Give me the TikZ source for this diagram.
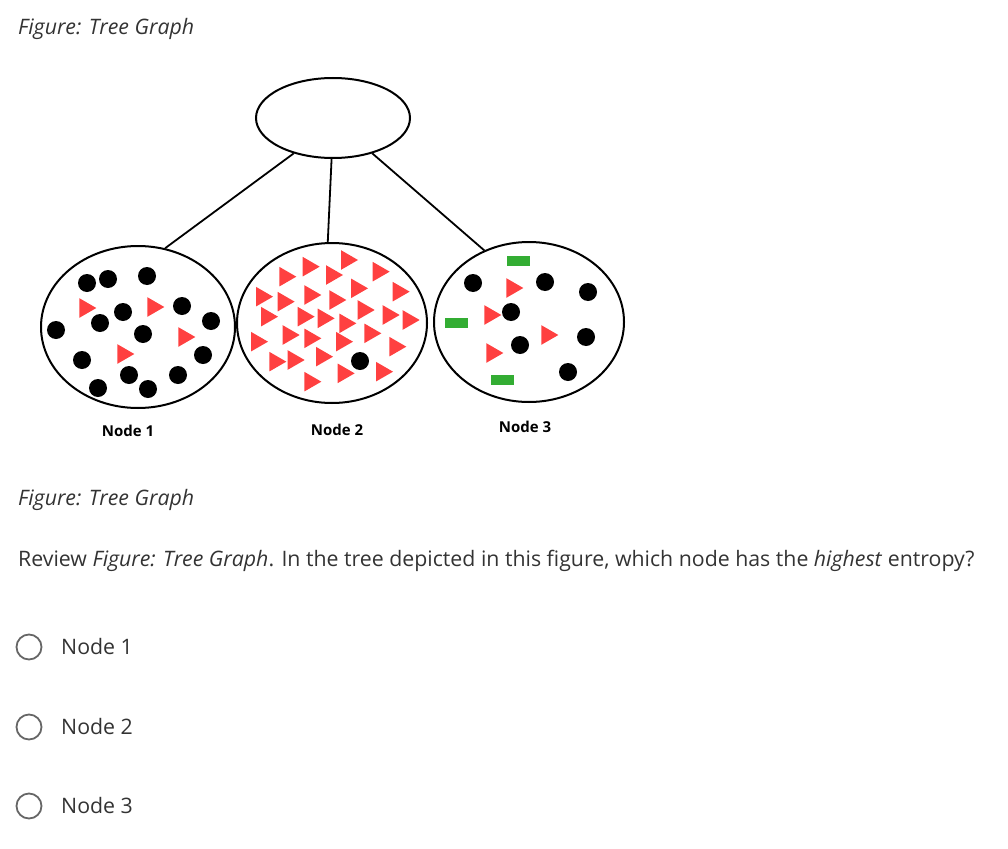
\documentclass[tikz,border=0pt]{standalone}
\usepackage{fontspec}
\setmainfont{Open Sans}
\usetikzlibrary{shapes.geometric}
\begin{document}
\begin{tikzpicture}[x=1pt,y=-1pt,
 dot/.style={circle,fill=black,inner sep=0pt,minimum size=18pt},
 tri/.style={isosceles triangle,fill=red!75!white,inner sep=0pt,minimum height=17pt,minimum width=19pt,isosceles triangle apex angle=60},
 grn/.style={fill=green!60!black!80,inner sep=0pt,minimum width=23pt,minimum height=10pt},
 ell/.style={ellipse,draw,line width=2pt,inner sep=0pt},
 lbl/.style={font=\fontsize{15}{17}\selectfont\bfseries},
 txt/.style={anchor=base west,inner sep=0pt,font=\fontsize{21.3}{25}\selectfont,text=black!80},
 radio/.style={circle,draw=black!60,line width=1.8pt,minimum size=25pt,inner sep=0pt},
 edge/.style={line width=1.8pt}]
\useasboundingbox (0,0) rectangle (1008,848);
\node[txt] (t1) at (18,35) {\itshape Figure: Tree Graph};
\node[ell,minimum width=154pt,minimum height=80pt] (root) at (333,118) {};
\node[ell,minimum width=194pt,minimum height=162pt] (n1) at (138,327) {};
\node[ell,minimum width=190pt,minimum height=160pt] (n2) at (332,323) {};
\node[ell,minimum width=190pt,minimum height=160pt] (n3) at (529,322) {};
\draw[edge] (root.222) -- (n1.71);
\draw[edge] (root.268) -- (n2.93);
\draw[edge] (root.318) -- (n3.122);
% node 1
\foreach \x/\y [count=\i] in {87/283,108/279,147/276,123/312,100/323,182/306,211/321,56/330,143/334,82/360,203/355,129/375,178/375,98/388,148/389}
  \node[dot] (a\i) at (\x,\y) {};
\foreach \x/\y [count=\i] in {85/308,153/307,184/337,123/354}
  \node[tri] (at\i) at (\x,\y) {};
% node 2
\foreach \x/\y [count=\i] in {150/125,220/95,335/75,430/110,290/120,80/185,145/200,225/180,300/195,365/160,490/170,95/245,205/245,265/250,330/265,385/225,460/240,520/255,65/320,160/300,225/310,320/320,405/295,480/335,120/380,175/375,260/365,225/440,325/415,440/410}
  \node[tri] (bt\i) at ({\x/3+235},{\y/3+235}) {};
\node[dot] (b1) at (360,361) {};
% node 3
\foreach \x/\y [count=\i] in {473/283,545/282,588/292,511/312,586/337,520/345,568/372}
  \node[dot] (c\i) at (\x,\y) {};
\foreach \x/\y [count=\i] in {512/288,490/315,547/335,492/353}
  \node[tri] (ct\i) at (\x,\y) {};
\foreach \x/\y [count=\i] in {518/261,456/323,502/380}
  \node[grn] (cg\i) at (\x,\y) {};
\node[lbl] (l1) at (128,431) {Node 1};
\node[lbl] (l2) at (337,430) {Node 2};
\node[lbl] (l3) at (525,427) {Node 3};
\node[txt] (t2) at (18,505) {\itshape Figure: Tree Graph};
\node[txt] (q) at (18,566) {Review \textit{Figure: Tree Graph}. In the tree depicted in this figure, which node has the \textit{highest} entropy?};
\foreach \y/\n in {647/1,727/2,806/3}{
  \node[radio] (r\n) at (29,\y) {};
  \node[txt,anchor=west] (o\n) at (61,\y) {Node \n};
}
\end{tikzpicture}
\end{document}
